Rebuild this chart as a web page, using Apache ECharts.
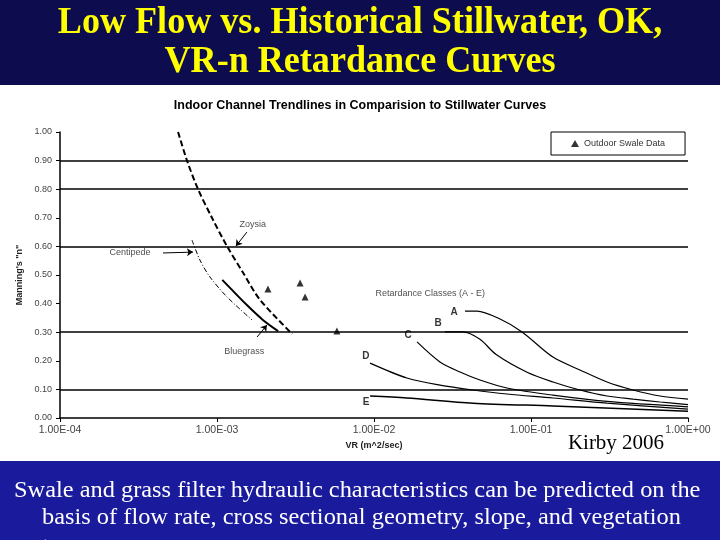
<!DOCTYPE html>
<html>
<head>
<meta charset="utf-8">
<script src="https://cdn.jsdelivr.net/npm/echarts@6/dist/echarts.min.js"></script>
<style>html,body{margin:0;padding:0;background:#fff;}#c{width:720px;height:540px;}</style>
</head>
<body>
<div id="c"></div>
<script>
// ---- data (VR in m^2/s, Manning's n) ----
const xTickValues = [1e-4, 1e-3, 1e-2, 1e-1, 1];
const xTickLabels = ['1.00E-04', '1.00E-03', '1.00E-02', '1.00E-01', '1.00E+00'];
const gridValues = [0.9, 0.8, 0.6, 0.3, 0.1];

const zoysia = [[5.65e-4,1.00],[6.44e-4,0.90],[7.57e-4,0.80],[9.29e-4,0.70],[1.16e-3,0.60],[1.47e-3,0.507],[1.88e-3,0.413],[3.01e-3,0.294]];
const centipede = [[6.93e-4,0.622],[7.79e-4,0.552],[9.02e-4,0.493],[1.16e-3,0.423],[1.67e-3,0.343]];
const bluegrass = [[1.08e-3,0.483],[1.21e-3,0.455],[1.55e-3,0.395],[1.96e-3,0.343],[2.45e-3,0.304]];
const classA = [[0.0380,0.374],[0.0453,0.374],[0.0635,0.346],[0.0877,0.301],[0.138,0.213],[0.205,0.168],[0.305,0.126],[0.447,0.098],[0.664,0.077],[1.0,0.066]];
const classB = [[0.0283,0.301],[0.0369,0.301],[0.0473,0.275],[0.0600,0.222],[0.0944,0.160],[0.138,0.126],[0.205,0.098],[0.305,0.077],[0.447,0.066],[0.664,0.056],[1.0,0.047]];
const classC = [[0.0188,0.266],[0.0263,0.196],[0.0353,0.161],[0.0473,0.133],[0.0703,0.105],[0.138,0.080],[0.305,0.058],[1.0,0.039]];
const classD = [[0.00944,0.192],[0.0162,0.140],[0.0263,0.115],[0.0427,0.098],[0.0703,0.084],[0.138,0.070],[0.305,0.052],[1.0,0.031]];
const classE = [[0.00944,0.077],[0.0162,0.070],[0.0427,0.052],[0.138,0.042],[1.0,0.024]];
const outdoorSwale = [[2.11e-3,0.451],[3.38e-3,0.472],[3.64e-3,0.423],[5.8e-3,0.304]];

const annoNames = ['Zoysia','Centipede','Bluegrass','Retardance Classes (A - E)','A','B','C','D','E'];
const annoPoints = [[1.69e-3,0.678],[2.79e-4,0.577],[1.49e-3,0.234],[0.0228,0.437],[0.0324,0.371],[0.0256,0.332],[0.0165,0.290],[0.00889,0.217],[0.00889,0.056]];
const arrows = [
  [[1.55e-3,0.650],[1.32e-3,0.601]],
  [[4.53e-4,0.577],[7.03e-4,0.580]],
  [[1.80e-3,0.283],[2.08e-3,0.325]]
];

const slideTitle = ['Low Flow vs. Historical Stillwater, OK,', 'VR-n Retardance Curves'];
const chartTitle = 'Indoor Channel Trendlines in Comparision to Stillwater Curves';
const caption = ['Swale and grass filter hydraulic characteristics can be predicted on the', 'basis of flow rate, cross sectional geometry, slope, and vegetation', 'type.'];
const credit = 'Kirby 2006';

// ---- chart ----
const chart = echarts.init(document.getElementById('c'));
const sansFont = 'Liberation Sans';

function curve(name, data, width, type) {
  return {
    name: name, type: 'line', data: data, smooth: 0.3, showSymbol: false, symbol: 'none',
    lineStyle: {color: '#000', width: width, type: type}, z: 3, silent: true
  };
}

const series = [
  curve('Zoysia', zoysia, 2, [6, 3]),
  curve('Centipede', centipede, 1, [5, 2, 1, 2]),
  curve('Bluegrass', bluegrass, 2, 'solid'),
  curve('A', classA, 1.2, 'solid'),
  curve('B', classB, 1.2, 'solid'),
  curve('C', classC, 1.2, 'solid'),
  curve('D', classD, 1.2, 'solid'),
  curve('E', classE, 1.5, 'solid'),
  {
    name: 'Outdoor Swale Data', type: 'scatter', data: outdoorSwale,
    symbol: 'triangle', symbolSize: 7, itemStyle: {color: '#000'}, z: 4
  },
  {
    name: 'annotations', type: 'scatter', symbolSize: 0, silent: true,
    data: annoPoints.map((p, i) => ({value: p, name: annoNames[i]})),
    label: {
      show: true, position: 'inside', formatter: (p) => p.name,
      fontFamily: sansFont, fontSize: 9, color: '#222'
    },
    labelLayout: {hideOverlap: false},
    markLine: {
      silent: true, symbol: ['none', 'arrow'], symbolSize: 6,
      lineStyle: {color: '#000', width: 1, type: 'solid'}, label: {show: false},
      data: arrows.map(a => [{coord: a[0]}, {coord: a[1]}])
    }
  },
  {
    name: 'grid', type: 'line', data: [], silent: true,
    markLine: {
      silent: true, symbol: 'none', label: {show: false},
      lineStyle: {color: '#000', width: 1.5, type: 'solid'},
      data: gridValues.map(v => ({yAxis: v}))
    }
  }
];

// letter labels bold
series[9].data.forEach((d, i) => {
  if (i >= 4) d.label = {fontWeight: 'bold', fontSize: 10, color: '#000'};
});

const option = {
  backgroundColor: '#fff',
  animation: false,
  title: {
    text: chartTitle, left: 'center', top: 94,
    textStyle: {fontFamily: sansFont, fontSize: 12.5, fontWeight: 'bold', color: '#000'}
  },
  legend: {
    data: [{name: 'Outdoor Swale Data', icon: 'triangle'}],
    left: 551, top: 132, itemWidth: 8, itemHeight: 7, itemGap: 4,
    padding: [7, 20, 7, 20], borderColor: '#000', borderWidth: 1,
    textStyle: {fontFamily: sansFont, fontSize: 9, color: '#333'}
  },
  grid: {left: 60, right: 32, top: 132, bottom: 122},
  xAxis: {
    type: 'log', logBase: 10, min: 1e-4, max: 1,
    name: 'VR (m^2/sec)', nameLocation: 'middle', nameGap: 23,
    nameTextStyle: {fontFamily: sansFont, fontSize: 9, fontWeight: 'bold', color: '#222'},
    axisLine: {lineStyle: {color: '#000', width: 1.5}},
    axisTick: {show: true, length: 4, lineStyle: {color: '#000'}},
    splitLine: {show: false},
    axisLabel: {
      fontFamily: sansFont, fontSize: 10.5, color: '#444', margin: 7,
      formatter: (v) => { const i = xTickValues.findIndex(t => Math.abs(Math.log10(t) - Math.log10(v)) < 1e-6); return i >= 0 ? xTickLabels[i] : ''; }
    }
  },
  yAxis: {
    type: 'value', min: 0, max: 1, interval: 0.1,
    name: 'Manning\'s "n"', nameLocation: 'middle', nameGap: 36, nameRotate: 90,
    nameTextStyle: {fontFamily: sansFont, fontSize: 9, fontWeight: 'bold', color: '#222'},
    axisLine: {show: true, lineStyle: {color: '#000', width: 1.5}},
    axisTick: {show: true, length: 4, lineStyle: {color: '#000'}},
    splitLine: {show: false},
    axisLabel: {fontFamily: sansFont, fontSize: 9, color: '#444', margin: 8, formatter: (v) => v.toFixed(2)}
  },
  series: series,
  graphic: [
    {type: 'rect', shape: {x: 0, y: 0, width: 720, height: 85}, style: {fill: '#0c0c4e'}, z: -10, silent: true},
    {type: 'rect', shape: {x: 0, y: 461, width: 720, height: 79}, style: {fill: '#1a1a9c'}, z: -10, silent: true},
    {type: 'text', x: 360, y: 23, scaleX: 0.95, style: {text: slideTitle[0], align: 'center', verticalAlign: 'middle', font: 'bold 38px "Liberation Serif"', fill: '#ffff00'}},
    {type: 'text', x: 360, y: 62, scaleX: 0.95, style: {text: slideTitle[1], align: 'center', verticalAlign: 'middle', font: 'bold 38px "Liberation Serif"', fill: '#ffff00'}},
    {type: 'text', x: 14, y: 491, scaleX: 1.06, style: {text: caption[0], align: 'left', verticalAlign: 'middle', font: '23px "Liberation Serif"', fill: '#fff'}},
    {type: 'text', x: 42, y: 518, scaleX: 1.06, style: {text: caption[1], align: 'left', verticalAlign: 'middle', font: '23px "Liberation Serif"', fill: '#fff'}},
    {type: 'text', x: 42, y: 547, scaleX: 1.06, style: {text: caption[2], align: 'left', verticalAlign: 'middle', font: '23px "Liberation Serif"', fill: '#fff'}},
    {type: 'text', x: 616, y: 443, style: {text: credit, align: 'center', verticalAlign: 'middle', font: '21px "Liberation Serif"', fill: '#000'}}
  ]
};
chart.setOption(option);
</script>
</body>
</html>
